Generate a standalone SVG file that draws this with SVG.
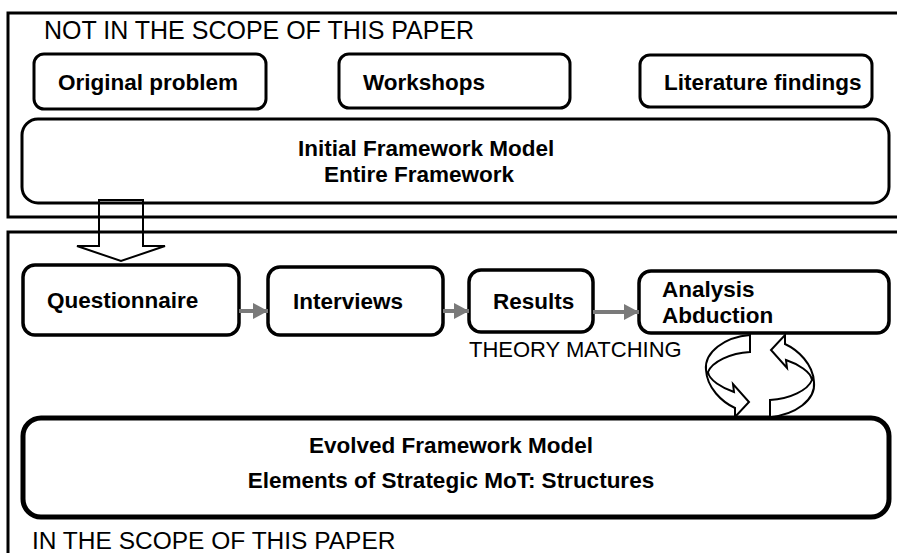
<svg xmlns="http://www.w3.org/2000/svg" width="897" height="553" viewBox="0 0 897 553">
  <style>
    .frame { fill: none; stroke: #000; stroke-width: 3; }
    .box { fill: #fff; stroke: #000; stroke-width: 3; }
    .box2 { fill: #fff; stroke: #000; stroke-width: 3.5; }
    .boxBig { fill: #fff; stroke: #000; stroke-width: 5; }
    .lbl { font-family: "Liberation Sans", Arial, sans-serif; font-size: 22.5px; font-weight: bold; fill: #000; }
    .cap { font-family: "Liberation Sans", Arial, sans-serif; font-size: 25px; fill: #000; }
    .note { font-family: "Liberation Sans", Arial, sans-serif; font-size: 22px; fill: #000; }
    .flow { stroke: #7a7a7a; stroke-width: 4; fill: none; }
    .cycle { fill: #fff; stroke: #000; stroke-width: 2; stroke-linejoin: miter; }
  </style>
  <defs>
    <marker id="tri" markerUnits="userSpaceOnUse" markerWidth="16" markerHeight="16" refX="15" refY="8" orient="auto">
      <path d="M0,0 L15,8 L0,16 Z" fill="#7a7a7a"/>
    </marker>
  </defs>

  <rect width="897" height="553" fill="#fff"/>

  <!-- scope frames -->
  <g id="scope-outside">
    <rect class="frame" x="8" y="13" width="900" height="204"/>
    <text class="cap" x="44" y="39">NOT IN THE SCOPE OF THIS PAPER</text>
  </g>
  <g id="scope-inside">
    <rect class="frame" x="8" y="232" width="900" height="340"/>
    <text class="cap" x="32" y="549" style="font-size:24.5px">IN THE SCOPE OF THIS PAPER</text>
  </g>

  <!-- inputs -->
  <g id="original-problem">
    <rect class="box" x="34" y="54" width="232" height="55" rx="10"/>
    <text class="lbl" x="58" y="90">Original problem</text>
  </g>
  <g id="workshops">
    <rect class="box" x="339" y="54" width="231" height="54" rx="10"/>
    <text class="lbl" x="363" y="90">Workshops</text>
  </g>
  <g id="literature-findings">
    <rect class="box" x="640" y="55" width="232" height="52" rx="10"/>
    <text class="lbl" x="664" y="90">Literature findings</text>
  </g>
  <g id="initial-model">
    <rect class="box" x="22" y="119" width="867" height="84" rx="16"/>
    <text class="lbl" x="298" y="156">Initial Framework Model</text>
    <text class="lbl" x="324" y="182">Entire Framework</text>
  </g>

  <!-- research steps -->
  <g id="questionnaire">
    <rect class="box2" x="23" y="265" width="216" height="70" rx="12"/>
    <text class="lbl" x="47" y="308">Questionnaire</text>
  </g>
  <g id="interviews">
    <rect class="box2" x="268" y="267" width="175" height="68" rx="12"/>
    <text class="lbl" x="293" y="309">Interviews</text>
  </g>
  <g id="results">
    <rect class="box2" x="469" y="270" width="124" height="62" rx="12"/>
    <text class="lbl" x="493" y="309">Results</text>
  </g>
  <g id="analysis">
    <rect class="box2" x="639" y="271" width="250" height="62" rx="12"/>
    <text class="lbl" x="662" y="297">Analysis</text>
    <text class="lbl" x="662" y="323">Abduction</text>
  </g>
  <g id="theory-matching">
    <text class="note" x="469" y="357">THEORY MATCHING</text>
  </g>

  <g id="evolved-model">
    <rect class="boxBig" x="23" y="418" width="866" height="99" rx="18"/>
    <text class="lbl" x="451" y="453" text-anchor="middle">Evolved Framework Model</text>
    <text class="lbl" x="451" y="488" text-anchor="middle">Elements of Strategic MoT: Structures</text>
  </g>

  <!-- connectors -->
  <g id="connectors">
    <polygon points="99,200 143,200 143,246 165,246 121,261 77,246 99,246" fill="none" stroke="#000" stroke-width="2"/>
    <line class="flow" x1="239" y1="311" x2="268" y2="311" marker-end="url(#tri)"/>
    <line class="flow" x1="443" y1="311" x2="469" y2="311" marker-end="url(#tri)"/>
    <line class="flow" x1="593" y1="312" x2="639" y2="312" marker-end="url(#tri)"/>
    <!-- iteration loop between analysis and evolved model -->
    <path class="cycle" d="M750,335 C725,337 704,352 706,370 C707,388 722,402 735,408 L735,417 L749,402 L733,384 L734,392 C722,388 709,380 708,372 C712,362 730,353 750,352 Z"/>
    <path class="cycle" transform="rotate(180 760 376)" d="M750,335 C725,337 704,352 706,370 C707,388 722,402 735,408 L735,417 L749,402 L733,384 L734,392 C722,388 709,380 708,372 C712,362 730,353 750,352 Z"/>
  </g>
</svg>
